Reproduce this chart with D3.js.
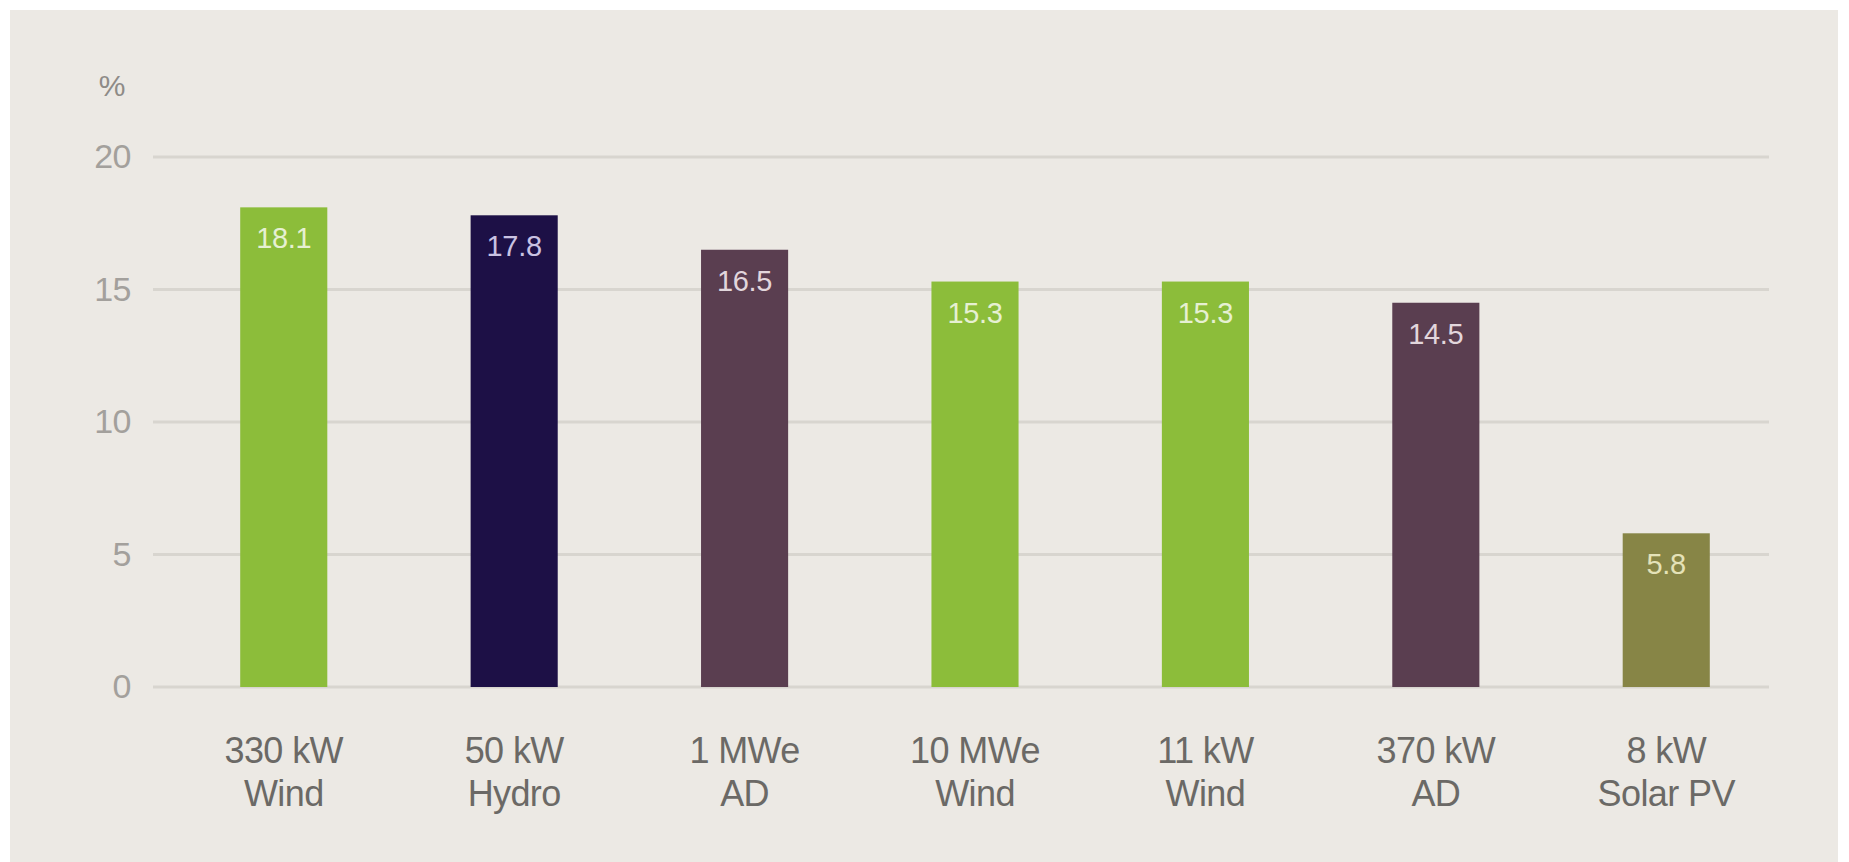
<!DOCTYPE html>
<html>
<head>
<meta charset="utf-8">
<script src="https://cdn.jsdelivr.net/npm/d3@7"></script>
<style>
  html, body { margin: 0; padding: 0; background: #ffffff; }
  svg { display: block; }
  text { font-family: "Liberation Sans", Arial, sans-serif; }
</style>
</head>
<body>
<svg id="chart" width="1849" height="862"></svg>
<script>
const categories = [["330 kW", "Wind"], ["50 kW", "Hydro"], ["1 MWe", "AD"], ["10 MWe", "Wind"], ["11 kW", "Wind"], ["370 kW", "AD"], ["8 kW", "Solar PV"]];
const values = [18.1, 17.8, 16.5, 15.3, 15.3, 14.5, 5.8];
const technology = ["Wind", "Hydro", "AD", "Wind", "Wind", "AD", "Solar"];
const yTicks = [0, 5, 10, 15, 20];
const unitLabel = "%";

const colorMap = { Wind: "#8cbd3a", Hydro: "#1d1046", AD: "#5a3e50", Solar: "#878546" };
const labelColor = { Wind: "#e6f0d2", Hydro: "#c9c2e2", AD: "#e2d6dc", Solar: "#e4e2b8" };

const svg = d3.select("#chart");

// panel background
svg.append("rect").attr("x", 10).attr("y", 10).attr("width", 1828).attr("height", 852).attr("fill", "#ece9e4");

const y = d3.scaleLinear().domain([0, 20]).range([687, 157]);
const keys = categories.map(c => c.join(" "));
const x = d3.scaleBand().domain(keys).range([125, 1825]).paddingInner(0.622).paddingOuter(0.5);

// gridlines
const gridX0 = 153, gridX1 = 1769;
svg.append("g").selectAll("line").data(yTicks).join("line")
  .attr("x1", gridX0).attr("x2", gridX1)
  .attr("y1", d => y(d)).attr("y2", d => y(d))
  .attr("stroke", "#d8d5cf").attr("stroke-width", 3);

// y axis labels via d3 axis
const yAxis = svg.append("g").attr("transform", "translate(131,0)")
  .call(d3.axisLeft(y).tickValues(yTicks).tickSize(0).tickPadding(0));
yAxis.select(".domain").remove();
yAxis.selectAll("text").attr("font-size", 34).attr("fill", "#a3a09c")
  .attr("font-family", "Liberation Sans, Arial, sans-serif").attr("letter-spacing", -0.5);

svg.append("text").attr("x", 112).attr("y", 85).attr("text-anchor", "middle")
  .attr("dominant-baseline", "central").attr("font-size", 30).attr("fill", "#8e8b87")
  .text(unitLabel);

// bars
svg.append("g").selectAll("rect").data(values).join("rect")
  .attr("x", (d, i) => x(keys[i]))
  .attr("width", x.bandwidth())
  .attr("y", d => y(d))
  .attr("height", d => y(0) - y(d))
  .attr("fill", (d, i) => colorMap[technology[i]]);

// value labels
svg.append("g").selectAll("text").data(values).join("text")
  .attr("x", (d, i) => x(keys[i]) + x.bandwidth() / 2)
  .attr("y", d => y(d) + 31)
  .attr("text-anchor", "middle").attr("dominant-baseline", "central")
  .attr("font-size", 29).attr("letter-spacing", -0.3)
  .attr("fill", (d, i) => labelColor[technology[i]])
  .text(d => d.toFixed(1));

// x labels
const xl = svg.append("g").selectAll("text").data(categories).join("text")
  .attr("x", (d, i) => x(keys[i]) + x.bandwidth() / 2)
  .attr("text-anchor", "middle").attr("font-size", 36).attr("letter-spacing", -0.6)
  .attr("fill", "#6b6966");
xl.append("tspan").attr("x", (d, i) => x(keys[i]) + x.bandwidth() / 2).attr("y", 763).text(d => d[0]);
xl.append("tspan").attr("x", (d, i) => x(keys[i]) + x.bandwidth() / 2).attr("y", 806).text(d => d[1]);
</script>
</body>
</html>
